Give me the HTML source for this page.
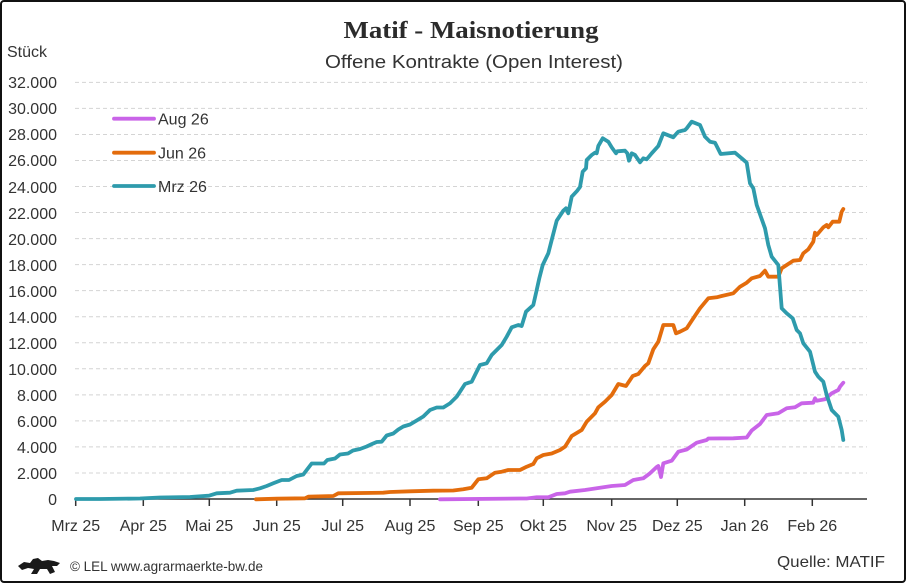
<!DOCTYPE html>
<html><head><meta charset="utf-8">
<style>
html,body{margin:0;padding:0;background:#fff;}
svg{display:block;}
text{font-family:"Liberation Sans",sans-serif;fill:#333;}
</style></head>
<body>
<svg width="906" height="583" viewBox="0 0 906 583" xmlns="http://www.w3.org/2000/svg">
<rect x="1" y="1" width="904" height="581" rx="3" fill="#fff" stroke="#111" stroke-width="2"/>
<text x="471" y="38" text-anchor="middle" style="font-family:'Liberation Serif',serif;font-weight:bold;font-size:24px;fill:#2b2b2b" textLength="255" lengthAdjust="spacingAndGlyphs">Matif - Maisnotierung</text>
<text x="474" y="68" text-anchor="middle" font-size="18" textLength="298" lengthAdjust="spacingAndGlyphs">Offene Kontrakte (Open Interest)</text>
<text x="7" y="57" font-size="16">Stück</text>
<g stroke="#d4d4d4" stroke-width="1" stroke-dasharray="4,3">
<line x1="75" x2="867" y1="472.96" y2="472.96"/><line x1="75" x2="867" y1="446.92" y2="446.92"/><line x1="75" x2="867" y1="420.88" y2="420.88"/><line x1="75" x2="867" y1="394.84" y2="394.84"/><line x1="75" x2="867" y1="368.8" y2="368.8"/><line x1="75" x2="867" y1="342.76" y2="342.76"/><line x1="75" x2="867" y1="316.72" y2="316.72"/><line x1="75" x2="867" y1="290.68" y2="290.68"/><line x1="75" x2="867" y1="264.64" y2="264.64"/><line x1="75" x2="867" y1="238.6" y2="238.6"/><line x1="75" x2="867" y1="212.56" y2="212.56"/><line x1="75" x2="867" y1="186.52" y2="186.52"/><line x1="75" x2="867" y1="160.48" y2="160.48"/><line x1="75" x2="867" y1="134.44" y2="134.44"/><line x1="75" x2="867" y1="108.4" y2="108.4"/><line x1="75" x2="867" y1="82.36" y2="82.36"/>
</g>
<g font-size="16" text-anchor="end">
<text x="57" y="505">0</text><text x="57" y="479">2.000</text><text x="57" y="453">4.000</text><text x="57" y="427">6.000</text><text x="57" y="401">8.000</text><text x="57" y="375">10.000</text><text x="57" y="349">12.000</text><text x="57" y="323">14.000</text><text x="57" y="297">16.000</text><text x="57" y="271">18.000</text><text x="57" y="245">20.000</text><text x="57" y="219">22.000</text><text x="57" y="193">24.000</text><text x="57" y="166">26.000</text><text x="57" y="140">28.000</text><text x="57" y="114">30.000</text><text x="57" y="88">32.000</text>
</g>
<g stroke="#333" stroke-width="1.5">
<line x1="75" x2="867" y1="499" y2="499"/>
<line x1="75.7" x2="75.7" y1="499" y2="506"/><line x1="143.3" x2="143.3" y1="499" y2="506"/><line x1="209.3" x2="209.3" y1="499" y2="506"/><line x1="276.7" x2="276.7" y1="499" y2="506"/><line x1="342.7" x2="342.7" y1="499" y2="506"/><line x1="410" x2="410" y1="499" y2="506"/><line x1="478.3" x2="478.3" y1="499" y2="506"/><line x1="543.3" x2="543.3" y1="499" y2="506"/><line x1="611.7" x2="611.7" y1="499" y2="506"/><line x1="677.3" x2="677.3" y1="499" y2="506"/><line x1="744.7" x2="744.7" y1="499" y2="506"/><line x1="812.3" x2="812.3" y1="499" y2="506"/>
</g>
<g font-size="16" text-anchor="middle">
<text x="75.7" y="531">Mrz 25</text><text x="143.3" y="531">Apr 25</text><text x="209.3" y="531">Mai 25</text><text x="276.7" y="531">Jun 25</text><text x="342.7" y="531">Jul 25</text><text x="410" y="531">Aug 25</text><text x="478.3" y="531">Sep 25</text><text x="543.3" y="531">Okt 25</text><text x="611.7" y="531">Nov 25</text><text x="677.3" y="531">Dez 25</text><text x="744.7" y="531">Jan 26</text><text x="812.3" y="531">Feb 26</text>
</g>
<g fill="none" stroke-width="3.8" stroke-linejoin="round" stroke-linecap="round">
<polyline stroke="#c964e8" points="440,499.3 520,498.5 526.7,498.5 536.7,497.3 548.3,497.3 556.7,494 565,493.3 570,491.7 585,490 596.7,488.3 611.7,486 625,485 633.3,480 643.3,478.3 650,473.3 656.7,467 658.3,466 661,477 663.3,463.3 671.7,460.7 678.3,451.7 686.7,449.5 696.7,442.7 706.7,440 708.3,438.5 733.3,438.3 746.7,437.5 751.7,430.5 760,424 766.7,415 778.3,413.3 786.7,408.3 795,407.3 801.7,403.3 813.3,402.7 815,398.3 816.7,400.7 825,399.3 831.7,393.3 838.3,390 840,386.7 843.3,382.7"/>
<polyline stroke="#e36c0c" points="256,499.3 276.7,498.7 305,498.3 308.3,496.7 333.3,496 338.3,493.3 383.3,492.7 390,492 410,491.3 433.3,490.7 453.3,490.5 463.3,489.3 471.7,487.7 478.3,479.3 486.7,478.3 495,472.7 501.7,471.7 508.3,470 520,470 526.7,466.7 533.3,464 536.7,458.3 543.3,455 551.7,453.5 560,450 565,446.7 571.7,436 581.7,430 586.7,421.7 595,413.3 598.3,407.3 605,401.7 611.7,395 618.3,384 626,386 632.7,376 638.3,374 645,366 648.3,363.3 653.3,349.3 658.3,341.7 663.3,325 673.3,325 676,333.3 680,331.7 686.7,328.3 693.3,318.3 700,308.3 708.3,298.3 716.7,297.3 721.7,296 733.3,293.3 740,286.7 746.7,282.7 751.7,278.3 760,276 765,270.7 768.3,276.7 778.3,276.7 781.7,268.3 786.7,265 793.3,260.7 800,260 803.3,253.3 808.3,249.3 813.3,241.7 815,232.7 816.7,235 823.3,227.3 826.7,225 828.3,227.3 832.7,221.7 839.3,221.7 841.7,211.7 843.3,209"/>
<polyline stroke="#2e9bac" points="76,499 100,499 140,498.5 160,497.5 190,497 209,495.7 216.7,493.3 230,492.7 236.7,490.7 253.3,490 260,488.3 266.7,486 273.3,483.3 281.7,480 289,480 296.7,476 303.3,474.5 306.7,470 311.7,463.5 324,463.5 327.3,460 335,458.5 340,454.5 348,453.5 353,450.5 360,449 366.7,446.5 372,444 376.7,442 381.7,441.7 386.7,435.5 393.3,433.5 398.3,429.5 403.3,426.5 410,424.5 416.7,420.5 423.3,416.5 430,410 436.7,407.5 443.3,407.5 450,403.3 456.7,396.7 460,391.7 465,384 471.7,381.7 475,375 480,365 486.7,363.3 491.7,355 496.7,350 501.7,345 506.7,336.7 511.7,327.3 518.3,325 521.7,326 526,311.7 533.3,305 536.7,290 539.3,278.3 542.7,265 548.3,253.3 551.7,240 556.7,220.7 563.3,210.7 566,208.3 568.3,213.3 571.7,196.7 577,191 580,187 582.7,171.7 586,168.3 586.7,160 591.7,155 595,152.7 596.7,153.3 598.3,146 602.7,138.3 608.3,141.7 611.7,147.3 616,153.3 617.3,151.3 625,150.7 627.3,153.3 629,160.7 631.7,153.3 635,155 640,162.3 643.3,158.3 646.7,159.3 651.7,153.3 658.3,146 663.3,133.3 673.3,137.3 676.7,133.3 678.3,131.7 685,130 686.7,128.3 691.7,121.7 700,125 705,136.7 710,141.7 715,142.7 720.7,154 735,152.7 741.7,158.3 746.7,162.7 750,183.3 753.3,188.3 756.7,205 765,228.3 768.3,245 771.7,256.7 778.3,265 780,286.7 781.7,308.3 786.7,313.3 792.7,318.3 796.7,330 800,333.3 803.3,343.3 810,351.7 815,371.7 818.3,376.7 823.3,381.7 826.7,395 831.7,410 838.3,416.7 841.7,430 843.3,440"/>
<line x1="114" x2="154" y1="118.7" y2="118.7" stroke="#c964e8"/>
<line x1="114" x2="154" y1="152.7" y2="152.7" stroke="#e36c0c"/>
<line x1="114" x2="154" y1="186" y2="186" stroke="#2e9bac"/>
</g>
<g font-size="16">
<text x="158" y="124.5">Aug 26</text>
<text x="158" y="158.5">Jun 26</text>
<text x="158" y="192">Mrz 26</text>
</g>
<path d="M18,566 L24,562 L30,563 L33,559 L38,558 L42,561 L48,560 L54,561 L60,563 L57,566 L52,566 L55,572 L50,574 L47,569 L40,569 L37,574 L31,574 L34,569 L28,568 L22,570 Z" fill="#1a1a1a"/>
<text x="70" y="571" font-size="13.5" textLength="193" lengthAdjust="spacingAndGlyphs">© LEL www.agrarmaerkte-bw.de</text>
<text x="777" y="567" font-size="16" textLength="108" lengthAdjust="spacingAndGlyphs">Quelle: MATIF</text>
</svg>
</body></html>
